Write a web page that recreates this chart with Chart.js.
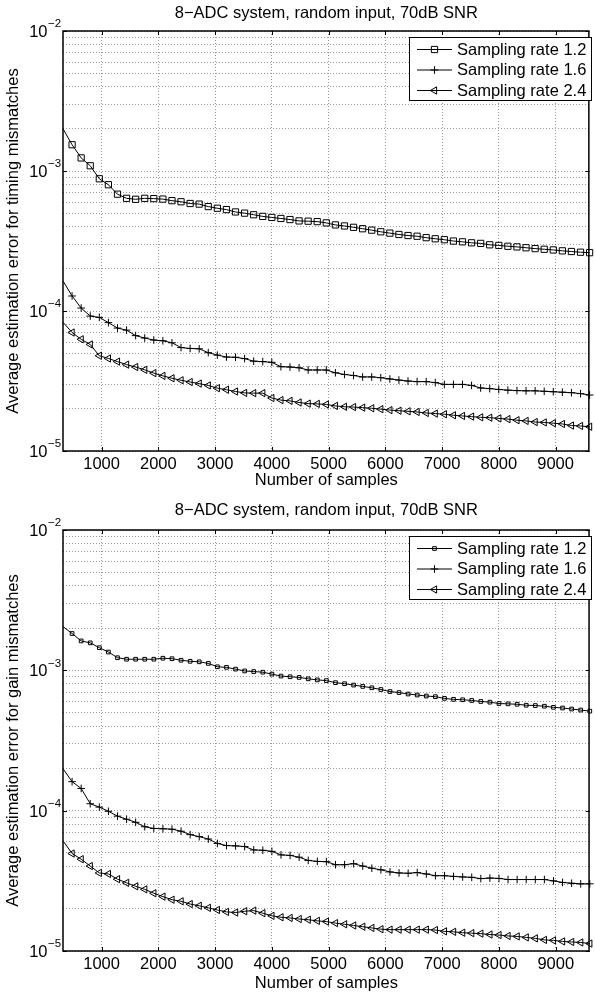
<!DOCTYPE html>
<html lang="en">
<head>
<meta charset="UTF-8">
<title>8-ADC system, random input, 70dB SNR</title>
<script src="https://cdn.jsdelivr.net/npm/chart.js@4"></script>
<style>
  html, body { margin: 0; padding: 0; background: #fff; overflow: hidden; }
  #wrap { position: relative; width: 595px; height: 994px; overflow: hidden; }
  canvas { position: absolute; left: 0; }
</style>
</head>
<body>
<div id="wrap">
  <canvas id="timingChart" width="595" height="490" style="top:0"></canvas>
  <canvas id="gainChart" width="595" height="504" style="top:490px"></canvas>
</div>
<script>
// number of samples (x)
const samples = [320, 480, 640, 800, 960, 1120, 1280, 1440, 1600, 1760, 1920, 2080, 2240, 2400, 2560,
  2720, 2880, 3040, 3200, 3360, 3520, 3680, 3840, 4000, 4160, 4320, 4480, 4640, 4800, 4960, 5120,
  5280, 5440, 5600, 5760, 5920, 6080, 6240, 6400, 6560, 6720, 6880, 7040, 7200, 7360, 7520, 7680,
  7840, 8000, 8160, 8320, 8480, 8640, 8800, 8960, 9120, 9280, 9440, 9600];

// timing mismatches
const timing12 = [2.0e-3, 1.54e-3, 1.24e-3, 1.09e-3, 8.8e-4, 7.98e-4, 6.83e-4, 6.38e-4, 6.28e-4, 6.38e-4,
  6.35e-4, 6.3e-4, 6.14e-4, 6.03e-4, 5.86e-4, 5.8e-4, 5.57e-4, 5.42e-4, 5.3e-4, 5.1e-4,
  5.0e-4, 4.87e-4, 4.74e-4, 4.66e-4, 4.58e-4, 4.5e-4, 4.4e-4, 4.38e-4, 4.35e-4, 4.26e-4,
  4.12e-4, 4.05e-4, 3.96e-4, 3.87e-4, 3.78e-4, 3.68e-4, 3.6e-4, 3.52e-4, 3.46e-4, 3.42e-4,
  3.34e-4, 3.28e-4, 3.23e-4, 3.16e-4, 3.12e-4, 3.07e-4, 3.04e-4, 2.97e-4, 2.94e-4, 2.9e-4,
  2.87e-4, 2.83e-4, 2.79e-4, 2.76e-4, 2.73e-4, 2.69e-4, 2.66e-4, 2.63e-4, 2.61e-4];
const timing16 = [1.64e-4, 1.28e-4, 1.05e-4, 9.2e-5, 9.0e-5, 8.26e-5, 7.55e-5, 7.3e-5, 6.67e-5, 6.41e-5,
  6.2e-5, 6.13e-5, 5.93e-5, 5.48e-5, 5.4e-5, 5.37e-5, 5.04e-5, 4.84e-5, 4.69e-5, 4.67e-5,
  4.57e-5, 4.38e-5, 4.35e-5, 4.3e-5, 4.0e-5, 3.98e-5, 3.93e-5, 3.79e-5, 3.79e-5, 3.79e-5,
  3.62e-5, 3.52e-5, 3.46e-5, 3.38e-5, 3.38e-5, 3.34e-5, 3.27e-5, 3.21e-5, 3.16e-5, 3.13e-5,
  3.13e-5, 3.08e-5, 2.99e-5, 2.99e-5, 2.99e-5, 2.94e-5, 2.82e-5, 2.79e-5, 2.75e-5, 2.72e-5,
  2.7e-5, 2.69e-5, 2.69e-5, 2.67e-5, 2.65e-5, 2.63e-5, 2.61e-5, 2.57e-5, 2.51e-5];
const timing24 = [8.31e-5, 7.02e-5, 6.28e-5, 5.77e-5, 4.79e-5, 4.58e-5, 4.35e-5, 4.14e-5, 3.98e-5, 3.8e-5,
  3.6e-5, 3.44e-5, 3.31e-5, 3.2e-5, 3.11e-5, 3.03e-5, 2.94e-5, 2.81e-5, 2.74e-5, 2.66e-5,
  2.6e-5, 2.59e-5, 2.59e-5, 2.39e-5, 2.31e-5, 2.28e-5, 2.22e-5, 2.18e-5, 2.17e-5, 2.15e-5,
  2.1e-5, 2.07e-5, 2.06e-5, 2.04e-5, 2.02e-5, 1.99e-5, 1.96e-5, 1.94e-5, 1.92e-5, 1.9e-5,
  1.87e-5, 1.85e-5, 1.83e-5, 1.8e-5, 1.78e-5, 1.76e-5, 1.74e-5, 1.73e-5, 1.71e-5, 1.69e-5,
  1.66e-5, 1.64e-5, 1.61e-5, 1.6e-5, 1.58e-5, 1.56e-5, 1.52e-5, 1.51e-5, 1.49e-5];

// gain mismatches
const gain12 = [2.05e-3, 1.83e-3, 1.62e-3, 1.57e-3, 1.45e-3, 1.35e-3, 1.23e-3, 1.2e-3, 1.2e-3, 1.2e-3,
  1.2e-3, 1.22e-3, 1.21e-3, 1.18e-3, 1.16e-3, 1.15e-3, 1.12e-3, 1.06e-3, 1.05e-3, 1.02e-3,
  9.9e-4, 9.8e-4, 9.7e-4, 9.4e-4, 9.1e-4, 9.0e-4, 8.9e-4, 8.7e-4, 8.55e-4, 8.45e-4,
  8.17e-4, 8.03e-4, 7.85e-4, 7.68e-4, 7.51e-4, 7.3e-4, 7.06e-4, 6.94e-4, 6.78e-4, 6.67e-4,
  6.56e-4, 6.49e-4, 6.31e-4, 6.21e-4, 6.17e-4, 6.1e-4, 6.0e-4, 5.93e-4, 5.8e-4, 5.77e-4,
  5.73e-4, 5.64e-4, 5.61e-4, 5.55e-4, 5.45e-4, 5.39e-4, 5.3e-4, 5.21e-4, 5.12e-4];
const gain16 = [1.99e-4, 1.61e-4, 1.44e-4, 1.12e-4, 1.06e-4, 9.9e-5, 9.14e-5, 8.69e-5, 8.26e-5, 7.68e-5,
  7.47e-5, 7.43e-5, 7.38e-5, 7.14e-5, 6.75e-5, 6.53e-5, 6.28e-5, 5.84e-5, 5.64e-5, 5.61e-5,
  5.55e-5, 5.25e-5, 5.22e-5, 5.13e-5, 4.84e-5, 4.8e-5, 4.66e-5, 4.42e-5, 4.35e-5, 4.33e-5,
  4.12e-5, 4.12e-5, 4.19e-5, 4.03e-5, 3.89e-5, 3.79e-5, 3.66e-5, 3.6e-5, 3.58e-5, 3.62e-5,
  3.54e-5, 3.44e-5, 3.44e-5, 3.4e-5, 3.37e-5, 3.35e-5, 3.28e-5, 3.31e-5, 3.29e-5, 3.23e-5,
  3.23e-5, 3.23e-5, 3.23e-5, 3.23e-5, 3.16e-5, 3.08e-5, 3.04e-5, 3.01e-5, 3.01e-5];
const gain24 = [6.1e-5, 4.95e-5, 4.51e-5, 4.03e-5, 3.6e-5, 3.54e-5, 3.25e-5, 3.06e-5, 2.89e-5, 2.75e-5,
  2.58e-5, 2.44e-5, 2.32e-5, 2.26e-5, 2.16e-5, 2.1e-5, 2.03e-5, 1.96e-5, 1.9e-5, 1.88e-5,
  1.92e-5, 1.94e-5, 1.86e-5, 1.78e-5, 1.74e-5, 1.72e-5, 1.69e-5, 1.67e-5, 1.64e-5, 1.62e-5,
  1.58e-5, 1.55e-5, 1.52e-5, 1.49e-5, 1.46e-5, 1.43e-5, 1.42e-5, 1.42e-5, 1.42e-5, 1.42e-5,
  1.42e-5, 1.41e-5, 1.38e-5, 1.37e-5, 1.35e-5, 1.34e-5, 1.33e-5, 1.31e-5, 1.3e-5, 1.28e-5,
  1.27e-5, 1.25e-5, 1.23e-5, 1.2e-5, 1.19e-5, 1.17e-5, 1.16e-5, 1.15e-5, 1.13e-5];

const seriesLabels = ['Sampling rate 1.2', 'Sampling rate 1.6', 'Sampling rate 2.4'];
const xTicks = [1000, 2000, 3000, 4000, 5000, 6000, 7000, 8000, 9000];
const yDecades = [1e-5, 1e-4, 1e-3, 1e-2];
const yExponents = ['\u22125', '\u22124', '\u22123', '\u22122'];
const titleText = '8\u2212ADC system, random input, 70dB SNR';
const xTitle = 'Number of samples';
const yTitleTiming = 'Average estimation error for timing mismatches';
const yTitleGain = 'Average estimation error for gain mismatches';

const FONT = '"Liberation Sans", Arial, Helvetica, sans-serif';

// grid lines at 1..9 x 10^n, like a matlab log grid
const yGrid = [];
yDecades.forEach((d, i) => {
  for (let k = 1; k <= 9; k++) {
    if (i === yDecades.length - 1 && k > 1) break;
    yGrid.push(k * d);
  }
});

// frame, inward ticks, superscript y labels and the boxed legend
const axesDecor = {
  id: 'axesDecor',
  afterDraw(chart, args, opts) {
    const {ctx, chartArea: a, scales: {x, y}} = chart;
    ctx.save();

    ctx.strokeStyle = '#000';
    ctx.lineWidth = 1;
    ctx.beginPath();
    xTicks.forEach(v => {
      const px = Math.round(x.getPixelForValue(v)) + 0.5;
      ctx.moveTo(px, a.bottom); ctx.lineTo(px, a.bottom - 4);
      ctx.moveTo(px, a.top); ctx.lineTo(px, a.top + 4);
    });
    yDecades.forEach(v => {
      const py = Math.round(y.getPixelForValue(v)) + 0.5;
      ctx.moveTo(a.left, py); ctx.lineTo(a.left + 4, py);
      ctx.moveTo(a.right, py); ctx.lineTo(a.right - 4, py);
    });
    ctx.stroke();

    ctx.lineWidth = 1.5;
    ctx.strokeRect(a.left, a.top, a.right - 0.75 - a.left, a.bottom - a.top);

    ctx.fillStyle = '#000';
    yDecades.forEach((v, i) => {
      const py = y.getPixelForValue(v);
      ctx.font = '16.5px ' + FONT;
      ctx.textAlign = 'right';
      ctx.textBaseline = 'middle';
      ctx.fillText('10', 47.5, py + 1.5);
      ctx.font = '11.5px ' + FONT;
      ctx.textAlign = 'left';
      ctx.fillText(yExponents[i], 48, py - 7);
    });

    // legend
    const lx = 409, lw = 182, ly = a.top + 6, lh = 63;
    ctx.fillStyle = '#fff';
    ctx.fillRect(lx, ly, lw, lh);
    ctx.strokeStyle = '#000';
    ctx.lineWidth = 1;
    ctx.strokeRect(lx + 0.5, ly + 0.5, lw, lh);
    chart.data.datasets.forEach((ds, i) => {
      const ry = ly + 12.5 + 20.5 * i;
      ctx.beginPath();
      ctx.moveTo(417, ry); ctx.lineTo(452, ry);
      ctx.stroke();
      const m = opts.markers[i];
      ctx.fillStyle = 'rgba(0,0,0,0)';
      Chart.helpers.drawPoint(ctx, {pointStyle: m.style, radius: m.radius, rotation: m.rotation || 0, borderWidth: 1}, 434.5, ry);
      ctx.fillStyle = '#000';
      ctx.font = '16.5px ' + FONT;
      ctx.textAlign = 'left';
      ctx.textBaseline = 'middle';
      ctx.fillText(ds.label, 457, ry + 0.5);
    });
    ctx.restore();
  }
};

function makeSeries(label, values, marker) {
  return {
    label,
    data: samples.map((s, i) => ({x: s, y: values[i]})),
    borderColor: '#000',
    borderWidth: 1,
    backgroundColor: 'rgba(0,0,0,0)',
    pointStyle: marker.style,
    pointRotation: marker.rotation || 0,
    pointRadius: c => c.dataIndex === 0 ? 0 : marker.radius,
    pointBorderColor: '#000',
    pointBackgroundColor: 'rgba(0,0,0,0)',
    pointBorderWidth: 1,
    tension: 0,
    clip: false
  };
}

function makeChart(id, series, markers, yTitle, box) {
  const datasets = series.map((vals, i) => makeSeries(seriesLabels[i], vals, markers[i]));
  const gridOpts = { color: 'rgba(0,0,0,0.4)', lineWidth: 1, drawTicks: false };
  return new Chart(document.getElementById(id), {
    type: 'line',
    data: { datasets },
    plugins: [axesDecor],
    options: {
      responsive: false,
      animation: false,
      devicePixelRatio: 1,
      events: [],
      layout: { padding: 0 },
      plugins: {
        legend: { display: false },
        tooltip: { enabled: false },
        title: {
          display: true, text: titleText, color: '#000', fullSize: false,
          font: { family: FONT, size: 16.5, weight: 'normal' },
          padding: { top: box.titleTop, bottom: box.titleBottom }
        },
        axesDecor: { markers }
      },
      scales: {
        x: {
          type: 'linear', min: 320, max: 9600,
          afterBuildTicks: s => { s.ticks = xTicks.map(v => ({value: v})); },
          afterFit: s => { s.height = box.xHeight; },
          ticks: { color: '#000', font: { family: FONT, size: 16.5 }, padding: 4, maxRotation: 0, autoSkip: false, callback: v => String(v) },
          grid: gridOpts,
          border: { display: false, dash: [1, 2] },
          title: { display: true, text: xTitle, color: '#000', font: { family: FONT, size: 16.5 }, padding: { top: 0, bottom: box.xTitleBottom } }
        },
        y: {
          type: 'logarithmic', min: 1e-5, max: 1e-2,
          afterBuildTicks: s => { s.ticks = yGrid.map(v => ({value: v})); },
          afterFit: s => { s.width = 63; },
          ticks: { display: false },
          grid: gridOpts,
          border: { display: false, dash: [1, 2] },
          title: { display: true, text: yTitle, color: '#000', font: { family: FONT, size: 16.5 }, padding: { top: 4, bottom: 0 } }
        }
      }
    }
  });
}

makeChart('timingChart', [timing12, timing16, timing24],
  [{style: 'rect', radius: 4.4}, {style: 'cross', radius: 3.8}, {style: 'triangle', radius: 4.2, rotation: -90}],
  yTitleTiming, { titleTop: 4, titleBottom: 7.2, xHeight: 39, xTitleBottom: 0 });

makeChart('gainChart', [gain12, gain16, gain24],
  [{style: 'rect', radius: 2.6}, {style: 'cross', radius: 3.8}, {style: 'triangle', radius: 4.2, rotation: -90}],
  yTitleGain, { titleTop: 11, titleBottom: 9.2, xHeight: 43, xTitleBottom: 1 });
</script>
</body>
</html>
